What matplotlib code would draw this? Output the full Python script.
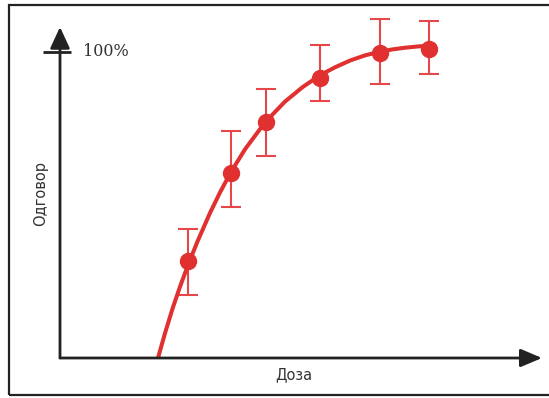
import matplotlib
matplotlib.use("Agg")
import matplotlib.pyplot as plt
from matplotlib.patches import Rectangle

# Data (dose in arbitrary units, response in %)
dose = [2.56, 3.43, 4.12, 5.20, 6.41, 7.38]
response = [31.8, 60.6, 77.0, 91.6, 99.7, 101.0]
err_low = [11.2, 11.3, 11.0, 7.5, 10.2, 8.2]
err_high = [10.4, 13.6, 10.9, 10.7, 11.1, 9.1]

curve_dose = [1.96, 2.10, 2.25, 2.40, 2.57, 2.75, 3.00, 3.20, 3.42, 3.70, 4.10,
              4.50, 4.85, 5.20, 5.50, 5.80, 6.10, 6.40, 6.65, 6.90, 7.15, 7.38]
curve_resp = [0.0, 8.1, 16.1, 23.3, 30.8, 38.1, 47.4, 54.1, 60.8, 68.2, 77.0,
              83.8, 88.5, 92.4, 95.0, 97.2, 98.9, 100.1, 100.85, 101.4, 101.8, 102.1]

tick_value = 100
tick_label = "100%"
x_label = "Доза"
y_label = "Одговор"

W, H = 549, 398
fig = plt.figure(figsize=(W / 100, H / 100), dpi=100)

# outer frame
fig.patches.append(Rectangle((9 / W, 1 - 395 / H), (W + 5 - 9) / W, (395 - 5) / H,
                             transform=fig.transFigure, fill=False,
                             edgecolor="#222222", linewidth=1.6, zorder=0))

x0, x1 = 60, 542
y0, y1 = 358, 27
ax = fig.add_axes([x0 / W, 1 - y0 / H, (x1 - x0) / W, (y0 - y1) / H])
xmax = (x1 - x0) / 50
ymax = (y0 - y1) / 3.06
ax.set_xlim(0, xmax)
ax.set_ylim(0, ymax)
ax.axis("off")

red = "#E0302F"
ax.plot(curve_dose, curve_resp, color=red, linewidth=2.9, solid_joinstyle="round",
        solid_capstyle="butt", zorder=3, clip_on=False)
ax.errorbar(dose, response, yerr=[err_low, err_high], fmt="none", ecolor="#E5474A",
            elinewidth=1.5, capsize=7, capthick=1.5, zorder=2, clip_on=False)
ax.plot(dose, response, "o", color=red, markersize=11.5, zorder=4, clip_on=False)

axcol = "#222222"
# axes with arrows
ax.annotate("", xy=(xmax, 0), xytext=(0, 0),
            arrowprops=dict(arrowstyle="-|>,head_length=1.3,head_width=0.55",
                            color=axcol, lw=2.0, shrinkA=0, shrinkB=0), annotation_clip=False)
ax.annotate("", xy=(0, ymax), xytext=(0, 0),
            arrowprops=dict(arrowstyle="-|>,head_length=1.3,head_width=0.6",
                            color=axcol, lw=2.0, shrinkA=0, shrinkB=0), annotation_clip=False)
# 100% tick
ax.plot([-17 / 50, 11 / 50], [tick_value, tick_value], color=axcol, lw=2.0, clip_on=False,
        solid_capstyle="butt")
ax.text(23 / 50, tick_value, tick_label, family="DejaVu Serif", fontsize=11.5,
        color="#333333", va="center", ha="left")

fig.text(294 / W, 1 - 375 / H, x_label, ha="center", va="center", fontsize=10.5,
         color="#333333", family="DejaVu Sans")
fig.text(41 / W, 1 - 193 / H, y_label, ha="center", va="center", fontsize=10.5,
         color="#333333", family="DejaVu Sans", rotation=90)

fig.savefig("out.png", dpi=100)
